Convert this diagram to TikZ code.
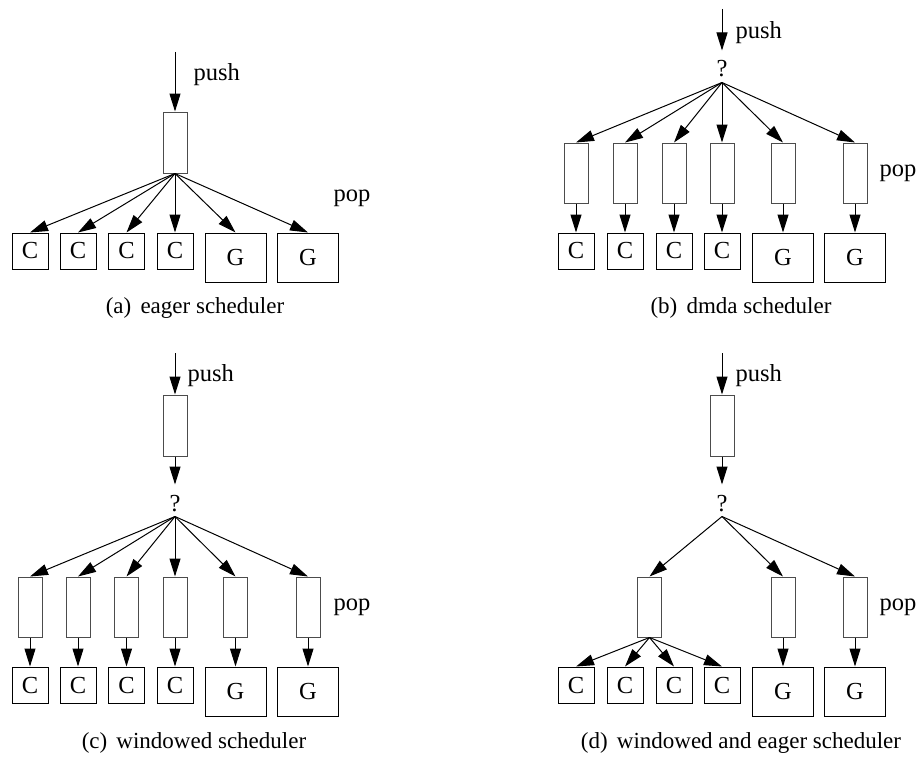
\documentclass[tikz,border=0pt]{standalone}
\usepackage{fontspec}
\setmainfont{Liberation Serif}
\usepackage{tikz}
\usetikzlibrary{arrows.meta}

\newcommand{\diagfont}{\fontsize{24.5}{28}\selectfont}
\newcommand{\captfont}{\fontsize{23}{27}\selectfont}

\tikzset{
    queue/.style={draw=black!70, minimum width=24pt, minimum height=60pt, inner sep=0pt},
    cpu/.style={draw, minimum width=36pt, minimum height=36pt, inner sep=0pt, font=\diagfont},
    gpu/.style={draw, minimum width=61pt, minimum height=49pt, inner sep=0pt, font=\diagfont},
    flow/.style={-{Triangle[length=18pt,width=11pt]}},
    lbl/.style={font=\diagfont, anchor=west, inner sep=0pt},
    split/.style={font=\diagfont, inner sep=0pt, text height=26pt, text depth=5pt, anchor=base},
    capt/.style={font=\captfont, inner sep=0pt}
}

\begin{document}
\begin{tikzpicture}[x=1pt,y=-1pt,line width=1pt]
    \useasboundingbox (0,0) rectangle (920,760);

    %(a) eager
    \coordinate (a-in) at (175,52);
    \node[queue, minimum height=61pt] (a-q) at (175,142.5) {};
    \draw[flow] (a-in) -- (a-q.north);
    \node[lbl] (a-push) at (193,75) {push};
    \foreach \n/\x in {1/30,2/78,3/126.5,4/175}
        \node[cpu] (a-c\n) at (\x,251) {C};
    \foreach \n/\x in {1/235.5,2/308}
        \node[gpu] (a-g\n) at (\x,257.5) {G};
    \foreach \t in {c1,c2,c3,c4,g1,g2}
        \draw[flow] (a-q.south) -- (a-\t.north);
    \node[lbl] (a-pop) at (333,198) {pop};
    \node[capt] (a-cap) at (195,308) {(a)\hspace{0.4em}eager scheduler};

    %(b) dmda
    \coordinate (b-in) at (722,9);
    \node[lbl] (b-push) at (735,33) {push};
    \node[split] (b-s) at (722,77) {?};
    \draw[flow] (b-in) -- (b-s.north);
    \foreach \n/\x in {1/576,2/625,3/674,4/722,5/783,6/855} {
        \node[queue] (b-q\n) at (\x,173) {};
        \draw[flow] (b-s.south) -- (b-q\n.north);
    }
    \foreach \n/\x in {1/576,2/625,3/674,4/722} {
        \node[cpu] (b-c\n) at (\x,251) {C};
        \draw[flow] (b-q\n.south) -- (b-c\n.north);
    }
    \foreach \n/\x in {5/783,6/855} {
        \node[gpu] (b-g\n) at (\x,257.5) {G};
        \draw[flow] (b-q\n.south) -- (b-g\n.north);
    }
    \node[lbl] (b-pop) at (879,173) {pop};
    \node[capt] (b-cap) at (741,308) {(b)\hspace{0.4em}dmda scheduler};

    %(c) windowed
    \coordinate (c-in) at (175,353);
    \node[lbl] (c-push) at (187,376) {push};
    \node[queue, minimum height=61pt] (c-w) at (175,425.5) {};
    \draw[flow] (c-in) -- (c-w.north);
    \node[split] (c-s) at (175,511) {?};
    \draw[flow] (c-w.south) -- (c-s.north);
    \foreach \n/\x in {1/30,2/78,3/126.5,4/175,5/235.5,6/308} {
        \node[queue] (c-q\n) at (\x,607) {};
        \draw[flow] (c-s.south) -- (c-q\n.north);
    }
    \foreach \n/\x in {1/30,2/78,3/126.5,4/175} {
        \node[cpu] (c-c\n) at (\x,685) {C};
        \draw[flow] (c-q\n.south) -- (c-c\n.north);
    }
    \foreach \n/\x in {5/235.5,6/308} {
        \node[gpu] (c-g\n) at (\x,691.5) {G};
        \draw[flow] (c-q\n.south) -- (c-g\n.north);
    }
    \node[lbl] (c-pop) at (333,607) {pop};
    \node[capt] (c-cap) at (194,743) {(c)\hspace{0.4em}windowed scheduler};

    %(d) windowed + eager
    \coordinate (d-in) at (722,353);
    \node[lbl] (d-push) at (735,376) {push};
    \node[queue, minimum height=61pt] (d-w) at (722,425.5) {};
    \draw[flow] (d-in) -- (d-w.north);
    \node[split] (d-s) at (722,511) {?};
    \draw[flow] (d-w.south) -- (d-s.north);
    \foreach \n/\x in {1/649.5,5/783,6/855} {
        \node[queue] (d-q\n) at (\x,607) {};
        \draw[flow] (d-s.south) -- (d-q\n.north);
    }
    \foreach \n/\x in {1/576,2/625,3/674,4/722} {
        \node[cpu] (d-c\n) at (\x,685) {C};
        \draw[flow] (d-q1.south) -- (d-c\n.north);
    }
    \foreach \n/\x in {5/783,6/855} {
        \node[gpu] (d-g\n) at (\x,691.5) {G};
        \draw[flow] (d-q\n.south) -- (d-g\n.north);
    }
    \node[lbl] (d-pop) at (879,607) {pop};
    \node[capt] (d-cap) at (741,743) {(d)\hspace{0.4em}windowed and eager scheduler};
\end{tikzpicture}
\end{document}
